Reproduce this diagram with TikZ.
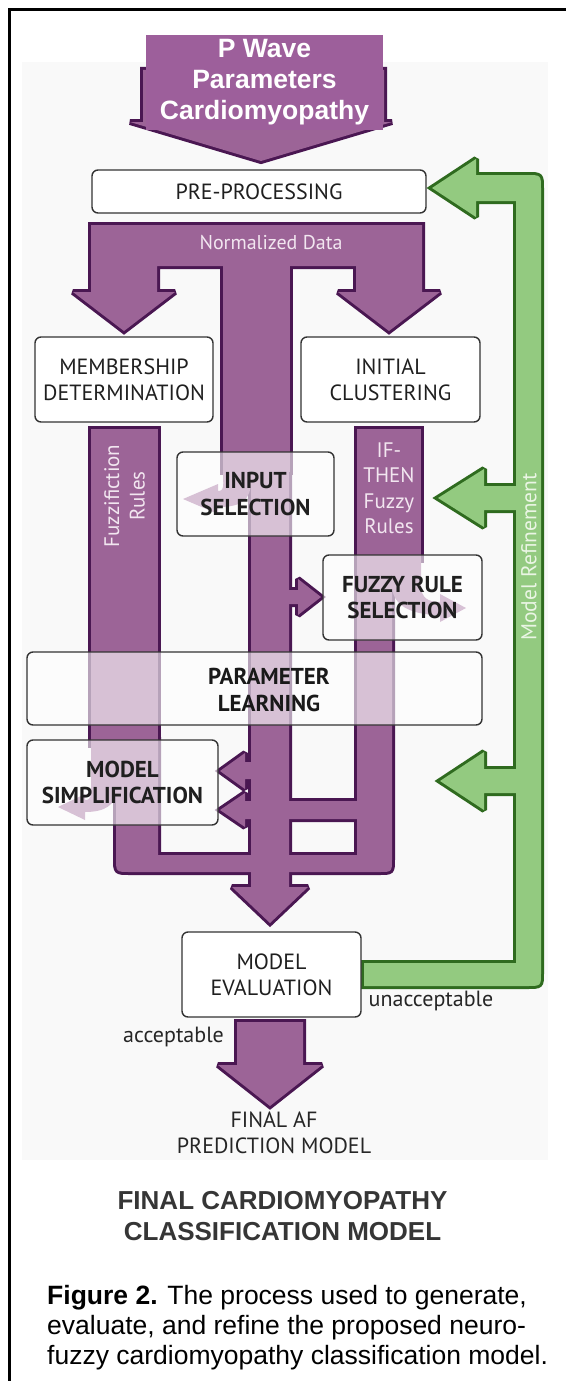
\documentclass[tikz,border=0pt]{standalone}
\usepackage{fontspec}
\setmainfont{PT Sans}
\newfontfamily\arialfont{Liberation Sans}

\definecolor{plum}{HTML}{9C6497}
\definecolor{plumtag}{HTML}{9D5F9B}
\definecolor{plumdark}{HTML}{4A1752}
\definecolor{plumtext}{HTML}{F2E6F0}
\definecolor{leaf}{HTML}{93CA80}
\definecolor{leafdark}{HTML}{2F6B1F}
\definecolor{leaftext}{HTML}{EAF5E4}
\definecolor{boxline}{HTML}{333333}
\definecolor{panel}{HTML}{F9F9F9}
\definecolor{headline}{HTML}{363636}

% --- purple flow network, one path per piece ---
\newcommand\pcBar{(91,225) -- (422,225) -- (422,292) -- (440,292) -- (389,331) -- (338,292) -- (356,292) -- (356,266) -- (157,266) -- (157,292) -- (175,292) -- (124,331) -- (73,292) -- (91,292) -- cycle}
\newcommand\pcStemA{(223,260) rectangle (290,472)}
\newcommand\pcStemB{(251,470) -- (289,470) -- (289,887) -- (308,887) -- (270,923) -- (232,887) -- (251,887) -- cycle}
\newcommand\pcToFrs{(285,590) -- (298,590) -- (298,579) -- (321,597) -- (298,615) -- (298,604) -- (285,604) -- cycle}
\newcommand\pcLeftA{(91,429) rectangle (158,745)}
\newcommand\pcU{(116,740) -- (158,740) -- (158,855) -- (357,855) -- (357,555) -- (392,555) -- (392,859) .. controls (392,872) .. (379,872) -- (130,872) .. controls (116,872) .. (116,858) -- cycle}
\newcommand\pcRightA{(357,429) rectangle (421,560)}
\newcommand\pcToMsA{(255,762) -- (245,762) -- (245,753) -- (220,771) -- (245,789) -- (245,779) -- (255,779) -- cycle}
\newcommand\pcToMsB{(360,801) -- (245,801) -- (245,793) -- (220,810) -- (245,827) -- (245,819) -- (360,819) -- cycle}
\newcommand\pcOut{(237,1022) -- (303,1022) -- (303,1065) -- (322,1065) -- (270,1106) -- (218,1065) -- (237,1065) -- cycle}
% branches that bend into the see-through boxes
\newcommand\curlIn{(223,466) -- (251,466) -- (251,480) .. controls (251,500) and (242,507) .. (218,507) -- (218,514) -- (183,499) -- (218,484) -- (218,491) .. controls (225,491) and (223,484) .. (223,472) -- cycle}
\newcommand\curlFrs{(392,558) -- (421,558) -- (421,585) .. controls (421,598) and (428,602) .. (440,602) -- (440,594) -- (466,608) -- (440,622) -- (440,615) .. controls (410,615) and (392,605) .. (392,585) -- cycle}
\newcommand\curlMs{(91,742) -- (116,742) -- (116,790) .. controls (116,805) and (105,812) .. (85,812) -- (85,820) -- (58,807) -- (85,794) -- (85,800) .. controls (92,800) and (91,795) .. (91,785) -- cycle}

% --- green refinement loop ---
\newcommand\gMain{(432,188) -- (476,159) -- (476,175) -- (527,175) .. controls (541,175) .. (541,189) -- (541,973) .. controls (541,986) .. (527,986) -- (364,986) -- (364,963) -- (516,963) -- (516,201) -- (476,201) -- (476,217) -- cycle}
\newcommand\gA{(438,498) -- (484,469) -- (484,486) -- (518,486) -- (518,510) -- (484,510) -- (484,527) -- cycle}
\newcommand\gB{(440,781) -- (484,752) -- (484,769) -- (518,769) -- (518,793) -- (484,793) -- (484,810) -- cycle}

\begin{document}
\begin{tikzpicture}[x=1pt,y=-1pt,
  pline/.style={draw=plumdark, line width=6pt, line join=miter, miter limit=2},
  pfill/.style={fill=plum},
  gline/.style={draw=leafdark, line width=6pt, line join=miter, miter limit=2},
  gfill/.style={fill=leaf},
  box/.style={draw=boxline, line width=1.4pt, rounded corners=6pt, fill=white, inner sep=0pt, align=center,
    font=\fontsize{22}{26}\selectfont, text=black!88},
  glass/.style={box, fill opacity=0.6, text opacity=1, draw opacity=1},
  boldtext/.style={font=\fontsize{23}{26.5}\selectfont\bfseries},
  bold/.style={boldtext, text=black!90, align=center},
  plain/.style={font=\fontsize{22}{26}\selectfont, text=black!85, align=center},
  onplum/.style={font=\fontsize{21}{25.5}\selectfont, text=plumtext, align=center},
]
\useasboundingbox (0,0) rectangle (566,1381);

% frame and panel
\fill[panel] (22,62) rectangle (548,1160);
\draw[line width=2.5pt] (9.5,1381) -- (9.5,9.5) -- (566,9.5);

% input arrow with its tag
\path[pline] (143,70) -- (384,70) -- (384,122) -- (392,122) -- (261,161) -- (130,122) -- (143,122) -- cycle;
\path[pfill] (143,70) -- (384,70) -- (384,122) -- (392,122) -- (261,161) -- (130,122) -- (143,122) -- cycle;
\node[fill=plumtag, minimum width=237pt, minimum height=95pt, inner sep=0pt,
  font=\arialfont\bfseries\fontsize{26.5}{31}\selectfont, text=white, align=center]
  (tag) at (264.5,82.5) {P Wave\\Parameters\\Cardiomyopathy};

% purple network: outline pass, then fill pass
\foreach \pc in {\pcBar,\pcStemA,\pcStemB,\pcToFrs,\pcLeftA,\pcU,\pcRightA,\pcToMsA,\pcToMsB,\pcOut}
  \path[pline] \pc;
\foreach \pc in {\pcBar,\pcStemA,\pcStemB,\pcToFrs,\pcLeftA,\pcU,\pcRightA,\pcToMsA,\pcToMsB,\pcOut,\curlIn,\curlFrs,\curlMs}
  \path[pfill] \pc;

% green loop: outline pass, then fill pass
\foreach \pc in {\gMain,\gA,\gB} \path[gline] \pc;
\foreach \pc in {\gMain,\gA,\gB} \path[gfill] \pc;

% text on the bands
\node[onplum, font=\fontsize{20}{24}\selectfont] (norm) at (271,243) {Normalized Data};
\node[onplum, rotate=90] (fuzzif) at (124.5,496) {Fuzzifiction\\Rules};
\node[onplum] (ifthen) at (389,488.5) {IF-\\THEN\\Fuzzy\\Rules};
\node[font=\fontsize{21.5}{25}\selectfont, text=leaftext, rotate=90] (refine) at (529,557) {Model Refinement};

% process boxes
\node[box, minimum width=334pt, minimum height=43pt] (pre) at (259,191.5) {PRE-PROCESSING};
\node[box, minimum width=178pt, minimum height=85pt] (mem) at (124,379.5) {MEMBERSHIP\\DETERMINATION};
\node[box, minimum width=179pt, minimum height=85pt] (ini) at (390.5,379.5) {INITIAL\\CLUSTERING};
\node[glass, boldtext, minimum width=157pt, minimum height=84pt] (insel) at (255.5,494) {INPUT\\SELECTION};
\node[glass, boldtext, minimum width=159pt, minimum height=85pt] (frs) at (402.5,597.5) {FUZZY RULE\\SELECTION};
\node[glass, minimum width=455pt, minimum height=73pt] (pl) at (254.5,688.5) {};
\node[bold] (plt) at (269,690) {PARAMETER\\LEARNING};
\node[glass, boldtext, minimum width=191pt, minimum height=85pt] (ms) at (122.5,782.5) {MODEL\\SIMPLIFICATION};
\node[box, minimum width=179pt, minimum height=85pt] (me) at (271.5,974.5) {MODEL\\EVALUATION};

% outcome labels
\node[plain] (unacc) at (431,1001) {unacceptable};
\node[plain] (acc) at (173.5,1037) {acceptable};
\node[plain] (final) at (274,1133) {FINAL AF\\PREDICTION MODEL};

% heading and caption
\node[font=\arialfont\bfseries\fontsize{26}{31}\selectfont, text=headline, align=center]
  (heading) at (282.5,1216) {FINAL CARDIOMYOPATHY\\CLASSIFICATION MODEL};
\node[anchor=west, font=\arialfont\fontsize{26.5}{30}\selectfont, align=left, inner sep=0pt]
  (caption) at (47,1328) {\textbf{Figure 2.} The process used to generate,\\evaluate, and refine the proposed neuro-\\fuzzy cardiomyopathy classification model.};
\end{tikzpicture}
\end{document}
